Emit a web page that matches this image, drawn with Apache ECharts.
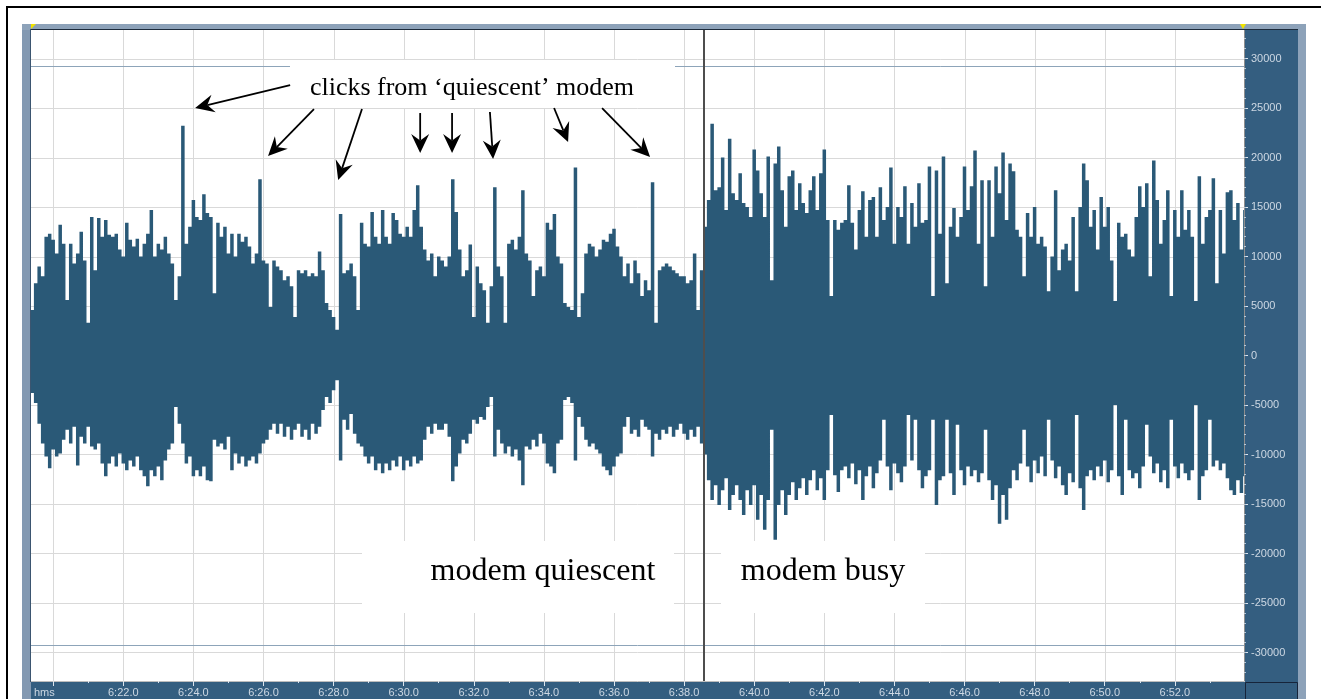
<!DOCTYPE html>
<html><head><meta charset="utf-8">
<script src="https://cdn.jsdelivr.net/npm/echarts@6/dist/echarts.min.js"></script>
<style>html,body{margin:0;padding:0;background:#fff;overflow:hidden}#c{width:1321px;height:699px}</style>
</head><body><div id="c"></div>
<script>
// ---- data (amplitude envelope, one sample every 0.1 s starting at 379.4 s) ----
const T_START = 379.4, T_STEP = 0.1;
const hi = [
4600,7300,9000,8000,12000,12300,11700,10300,13200,11300,
5600,11300,9300,10300,12500,9600,3300,14000,8600,13900,
12000,13700,12200,12000,12300,10700,10000,13400,11700,11000,
11800,10000,11300,12300,14700,10000,11300,10700,12000,10300,
9300,5600,8000,23200,11300,13000,15700,14000,13700,16300,
14400,14000,6300,13400,12000,13000,10300,12300,10000,12300,
11500,12000,11000,9300,10300,17800,9600,9300,4900,9600,
9000,8600,7600,8000,7000,3900,8600,8300,8600,8000,
8300,8000,10500,8600,5300,4600,3900,2600,14300,8300,
8600,9300,8000,4600,13400,11300,11000,14500,12000,11300,
14700,12000,11300,14400,13700,12300,12000,13000,12000,14700,
17200,13000,10700,9600,10300,8000,10000,
9600,9000,10000,17800,14500,10700,8000,8600,11200,3900,
9000,7300,6600,3300,7000,17000,9000,8000,3300,11300,
11700,10700,12000,16700,10300,9600,6000,8600,9000,8000,
13400,12700,14300,10000,9300,5300,4900,4600,19000,3900,
6300,10300,11300,11000,10000,10700,11700,11500,12300,12800,
11000,10000,8000,9300,7300,9600,8300,6000,7600,6600,
17500,3300,8600,9000,9300,9000,8600,8300,8000,8000,
7300,7600,10300,4600,8600,13000,15700,23400,16700,17000,
20000,14700,21900,16400,15700,18400,15400,15000,14000,20800,
18700,16400,14000,20100,7600,19400,21100,16700,13000,18100,
18700,14700,17400,15400,14400,16700,18100,14700,18400,20800,
13700,6000,13700,12700,13400,
13700,17200,13400,10700,14700,16600,12000,15700,16000,12000,
17000,13700,15000,19000,11300,15000,14000,17100,11300,15400,
13000,17400,13400,13700,19100,6000,18700,12300,20100,7300,
13000,14900,12000,14000,19100,14700,17100,20700,11300,17700,
7000,17700,12000,19100,16400,20500,13700,19400,18600,12700,
12000,8000,14400,12000,15000,11300,12000,11000,6500,10000,
16700,8600,10700,11300,9600,14000,6500,15000,19400,17700,
13000,14700,10700,16000,13000,15000,9600,5500,13400,12000,
12300,10700,10000,14000,17100,15000,17400,8000,19700,15700,
11300,13700,16700,6000,14700,12000,16700,12700,14700,12000,
5500,18100,11300,14000,14700,17900,7300,14700,10300,16500,
16700,13700,15400,10700,14700
];
const lo = [
-3800,-4800,-6900,-8900,-10200,-11400,-9500,-10200,-9900,-8500,
-7500,-8900,-7200,-11100,-8200,-8900,-7200,-9200,-9500,-8900,
-10900,-12200,-10900,-10200,-11200,-9900,-10900,-11600,-10600,-11200,
-10200,-11600,-12200,-13200,-11600,-12200,-11200,-12600,-10600,-9500,
-8900,-5200,-6900,-8900,-10900,-10200,-12200,-11600,-12200,-11200,
-12600,-12700,-8500,-9200,-8900,-9500,-8200,-11600,-9900,-10900,
-10200,-11200,-10600,-10200,-10900,-9900,-8900,-8500,-7500,-6900,
-7900,-6900,-8200,-7200,-8500,-7500,-6900,-8200,-7500,-8500,
-6900,-7900,-7200,-5500,-4200,-4800,-3500,-2500,-10600,-6500,
-7500,-5900,-7900,-8900,-9200,-10200,-10900,-10200,-11600,-10900,
-11900,-10900,-11600,-10600,-11200,-10200,-11600,-10600,-11200,-10200,
-10900,-10600,-8500,-7200,-7900,-6900,-7500,
-7500,-6900,-8200,-12700,-11200,-9900,-8500,-8900,-7900,-6500,
-6900,-6200,-6500,-5200,-4200,-10200,-7500,-8900,-9900,-9200,
-10200,-9500,-10600,-13100,-9200,-9500,-8500,-9200,-7900,-8900,
-10900,-11200,-11900,-8900,-8500,-4500,-4200,-4800,-10600,-6200,
-7200,-8500,-9200,-8900,-9500,-9900,-11200,-11600,-12100,-11200,
-10200,-9900,-7200,-6200,-7900,-7500,-8200,-6500,-7200,-7500,
-10200,-7900,-8500,-7500,-7900,-7200,-8200,-7500,-6900,-7900,
-8500,-7500,-8200,-7200,-8900,-10000,-12600,-14600,-13100,-15100,
-13600,-12400,-15600,-14100,-13100,-14600,-16100,-13600,-15100,-13100,
-16600,-14100,-17600,-14600,-7500,-18600,-15100,-13600,-16100,-14100,
-12800,-14600,-13400,-12400,-14100,-12600,-11600,-13600,-12400,-14600,
-11600,-6000,-12100,-13800,-11600,
-11200,-12400,-10900,-13000,-11600,-14600,-12200,-11200,-13400,-11900,
-10600,-6500,-11200,-13600,-10900,-11900,-12800,-11200,-6000,-10600,
-6500,-11600,-13400,-12200,-11600,-6500,-15100,-12600,-12200,-6500,
-11900,-14100,-7000,-11600,-13100,-11200,-12200,-11600,-12800,-11900,
-7500,-12600,-14600,-13100,-17000,-14100,-16600,-13400,-11600,-12600,
-10900,-7500,-11200,-12800,-10600,-11900,-10200,-12200,-6500,-10600,
-12400,-11200,-13100,-14100,-11900,-12800,-6000,-13400,-15600,-12200,
-11600,-12600,-11200,-12200,-10600,-12800,-11600,-5000,-12200,-14100,
-6500,-11600,-12400,-11900,-13400,-11200,-7000,-10200,-11900,-10900,
-12800,-11600,-13400,-6500,-11200,-12400,-10900,-11900,-12600,-11600,
-5000,-14600,-12200,-11600,-6500,-11200,-10600,-11600,-10900,-12400,
-13600,-14100,-12600,-13900,-12200
];
const xMajorTicks = [380,382,384,386,388,390,392,394,396,398,400,402,404,406,408,410,412];
const xLabelValues = [382,384,386,388,390,392,394,396,398,400,402,404,406,408,410,412];
const xMinorTicks = [381,383,385,387,389,391,393,395,397,399,401,403,405,407,409,411,413];
const yLabelValues = [-30000,-25000,-20000,-15000,-10000,-5000,0,5000,10000,15000,20000,25000,30000];
const clipLevels = [29205, -29205];
const cursorTime = 398.56;
// annotation arrows: [startTime, startValue, tipTime, tipValue]
const arrowPoints = [
  [386.76, 27320, 384.05, 24998],
  [387.44, 24897, 386.13, 20150],
  [388.81, 24897, 388.13, 17726],
  [390.47, 24493, 390.47, 20453],
  [391.38, 24493, 391.38, 20453],
  [392.46, 24594, 392.55, 19847],
  [394.29, 24998, 394.69, 21564],
  [395.66, 24998, 397.03, 20049]
];
const noteTop = 'clicks from ‘quiescent’ modem';
const noteLeft = 'modem quiescent';
const noteRight = 'modem busy';

// ---- chart ----
const X_MIN = 379.367, X_MAX = 413.974, Y_MIN = -32880, Y_MAX = 32880;
const WAVE = '#2a5977';
const LABEL = '#cdd8e3';
const FONT = '"Liberation Sans", Arial, sans-serif';
const SERIF = '"Liberation Serif", "Times New Roman", serif';
const times = hi.map((_, i) => +(T_START + i * T_STEP).toFixed(1));
const yMinorTicks = [];
for (let v = -32000; v <= 32000; v += 1000) yMinorTicks.push(v);

function fmtTime(t) {
  const m = Math.floor(t / 60);
  const s = Math.round(t - m * 60);
  return m + ':' + String(s).padStart(2, '0') + '.0';
}

const chart = echarts.init(document.getElementById('c'), null, {renderer: 'canvas', width: 1321, height: 699});

function crisp(v) { return Math.round(v) + 0.5; }

const option = {
  animation: false,
  backgroundColor: '#ffffff',
  grid: {left: 31, top: 30, width: 1213, height: 651, containLabel: false, outerBoundsMode: 'none'},
  xAxis: [
    {
      type: 'value', min: X_MIN, max: X_MAX, position: 'bottom', z: 10,
      axisLine: {show: true, onZero: false, lineStyle: {color: '#bdbdbd', width: 1}},
      axisTick: {show: true, customValues: xMajorTicks, length: 5, lineStyle: {color: '#dde5ee', width: 1}},
      axisLabel: {show: true, customValues: xLabelValues, formatter: fmtTime, color: LABEL, fontSize: 11, fontFamily: FONT, margin: 6},
      splitLine: {show: false}
    },
    {
      type: 'value', min: X_MIN, max: X_MAX, position: 'bottom', z: 10,
      axisLine: {show: false, onZero: false},
      axisTick: {show: true, customValues: xMinorTicks, length: 2, lineStyle: {color: '#dde5ee', width: 1}},
      axisLabel: {show: false},
      splitLine: {show: false}
    }
  ],
  yAxis: [
    {
      type: 'value', min: Y_MIN, max: Y_MAX, position: 'right', z: 10,
      axisLine: {show: true, onZero: false, lineStyle: {color: '#8e8e8e', width: 1}},
      axisTick: {show: true, customValues: yLabelValues, length: 4, lineStyle: {color: '#dde5ee', width: 1}},
      axisLabel: {show: true, customValues: yLabelValues, formatter: v => String(v), color: LABEL, fontSize: 11, fontFamily: FONT, margin: 7},
      splitLine: {show: false}
    },
    {
      type: 'value', min: Y_MIN, max: Y_MAX, position: 'right', z: 10,
      axisLine: {show: false, onZero: false},
      axisTick: {show: true, customValues: yMinorTicks, length: 2, lineStyle: {color: '#b9c7d6', width: 1}},
      axisLabel: {show: false},
      splitLine: {show: false}
    }
  ],
  series: [
    { // vertical grid lines
      type: 'custom', xAxisIndex: 0, yAxisIndex: 0, z: 1, silent: true,
      data: xMajorTicks.map(v => [v, 0]),
      renderItem: (p, api) => {
        const x = crisp(api.coord([api.value(0), 0])[0]);
        const y1 = api.coord([X_MIN, Y_MAX])[1], y2 = api.coord([X_MIN, Y_MIN])[1];
        return {type: 'line', shape: {x1: x, y1: y1, x2: x, y2: y2}, style: {stroke: '#d9d9d9', lineWidth: 1}};
      }
    },
    { // horizontal grid lines
      type: 'custom', xAxisIndex: 0, yAxisIndex: 0, z: 1, silent: true,
      data: yLabelValues.map(v => [X_MIN, v]),
      renderItem: (p, api) => {
        const y = crisp(api.coord([X_MIN, api.value(1)])[1]);
        const x1 = api.coord([X_MIN, 0])[0], x2 = api.coord([X_MAX, 0])[0];
        return {type: 'line', shape: {x1: x1, y1: y, x2: x2, y2: y}, style: {stroke: '#d9d9d9', lineWidth: 1}};
      }
    },
    { // clip level lines
      type: 'custom', xAxisIndex: 0, yAxisIndex: 0, z: 1, silent: true,
      data: clipLevels.map(v => [X_MIN, v]),
      renderItem: (p, api) => {
        const y = crisp(api.coord([X_MIN, api.value(1)])[1]);
        const x1 = api.coord([X_MIN, 0])[0], x2 = api.coord([X_MAX, 0])[0];
        return {type: 'line', shape: {x1: x1, y1: y, x2: x2, y2: y}, style: {stroke: '#8da4b9', lineWidth: 1}};
      }
    },
    { // waveform envelope (max above, min below), drawn as one stepped shape
      type: 'custom', xAxisIndex: 0, yAxisIndex: 0, z: 2, silent: true, clip: true,
      data: [[times[0], 0]],
      renderItem: (p, api) => {
        const half = T_STEP / 2;
        const pts = [];
        for (let i = 0; i < times.length; i++) {
          pts.push(api.coord([times[i] - half, hi[i]]));
          pts.push(api.coord([times[i] + half, hi[i]]));
        }
        for (let i = times.length - 1; i >= 0; i--) {
          pts.push(api.coord([times[i] + half, lo[i]]));
          pts.push(api.coord([times[i] - half, lo[i]]));
        }
        return {type: 'polygon', shape: {points: pts}, style: {fill: WAVE}};
      }
    },
    { // cursor
      type: 'custom', xAxisIndex: 0, yAxisIndex: 0, z: 4, silent: true,
      data: [[cursorTime, 0]],
      renderItem: (p, api) => {
        const x = Math.round(api.coord([api.value(0), 0])[0]);
        const y1 = api.coord([X_MIN, Y_MAX])[1], y2 = api.coord([X_MIN, Y_MIN])[1];
        return {type: 'line', shape: {x1: x, y1: y1, x2: x, y2: y2}, style: {stroke: '#4e4e4e', lineWidth: 2}};
      }
    },
    { // annotation arrows
      type: 'custom', xAxisIndex: 0, yAxisIndex: 0, z: 6, silent: true,
      data: arrowPoints,
      renderItem: (p, api) => {
        const s = api.coord([api.value(0), api.value(1)]);
        const e = api.coord([api.value(2), api.value(3)]);
        const dx = e[0] - s[0], dy = e[1] - s[1];
        const len = Math.hypot(dx, dy) || 1;
        const ux = dx / len, uy = dy / len, nx = -uy, ny = ux;
        const L = 19, W = 9;
        const bx = e[0] - ux * L, by = e[1] - uy * L;
        const qx = e[0] - ux * L * 0.66, qy = e[1] - uy * L * 0.66;
        return {type: 'group', children: [
          {type: 'line', shape: {x1: s[0], y1: s[1], x2: qx, y2: qy}, style: {stroke: '#000', lineWidth: 1.8}},
          {type: 'polygon', shape: {points: [[e[0], e[1]], [bx + nx * W, by + ny * W], [qx, qy], [bx - nx * W, by - ny * W]]}, style: {fill: '#000'}}
        ]};
      }
    }
  ],
  graphic: [
    // window frame pieces
    {type: 'rect', z: -1, shape: {x: 6, y: 6, width: 1315, height: 2}, style: {fill: '#000'}, silent: true},
    {type: 'rect', z: -1, shape: {x: 6, y: 6, width: 2, height: 693}, style: {fill: '#000'}, silent: true},
    {type: 'rect', z: -1, shape: {x: 22, y: 24, width: 9, height: 675}, style: {fill: '#8399b2'}, silent: true},
    {type: 'rect', z: -1, shape: {x: 22, y: 24, width: 1284, height: 6}, style: {fill: '#8da2b9'}, silent: true},
    {type: 'rect', z: -1, shape: {x: 1245, y: 30, width: 53, height: 669}, style: {fill: '#345e80'}, silent: true},
    {type: 'rect', z: -1, shape: {x: 1298, y: 24, width: 8, height: 675}, style: {fill: '#8da2b9'}, silent: true},
    {type: 'rect', z: -1, shape: {x: 31, y: 682, width: 1214, height: 17}, style: {fill: '#345e80'}, silent: true},
    {type: 'rect', z: 11, shape: {x: 1245.5, y: 682.5, width: 52, height: 18}, style: {fill: '#345e80', stroke: '#16243a', lineWidth: 1}, silent: true},
    {type: 'rect', z: 11, shape: {x: 31, y: 29, width: 1267, height: 1}, style: {fill: '#1c2b3b'}, silent: true},
    {type: 'rect', z: 11, shape: {x: 30, y: 29, width: 1, height: 653}, style: {fill: '#3b5570'}, silent: true},
    {type: 'polygon', z: 11, shape: {points: [[31, 24], [36, 24], [31, 29]]}, style: {fill: '#f0e400'}, silent: true},
    {type: 'polygon', z: 11, shape: {points: [[1240, 24], [1246, 24], [1243, 29]]}, style: {fill: '#f0e400'}, silent: true},
    {type: 'text', z: 11, x: 34, y: 693, style: {text: 'hms', fill: LABEL, fontSize: 11, fontFamily: FONT, align: 'left', verticalAlign: 'middle'}, silent: true},
    // annotation boxes
    {type: 'rect', z: 3, shape: {x: 290, y: 60, width: 385, height: 48}, style: {fill: '#ffffff'}, silent: true},
    {type: 'text', z: 7, x: 472, y: 88, style: {text: noteTop, fill: '#000', fontSize: 26, fontFamily: SERIF, align: 'center', verticalAlign: 'middle'}, silent: true},
    {type: 'rect', z: 3, shape: {x: 362, y: 541, width: 312, height: 72}, style: {fill: '#ffffff'}, silent: true},
    {type: 'text', z: 7, x: 543, y: 572, style: {text: noteLeft, fill: '#000', fontSize: 32, fontFamily: SERIF, align: 'center', verticalAlign: 'middle'}, silent: true},
    {type: 'rect', z: 3, shape: {x: 721, y: 541, width: 204, height: 72}, style: {fill: '#ffffff'}, silent: true},
    {type: 'text', z: 7, x: 823, y: 572, style: {text: noteRight, fill: '#000', fontSize: 32, fontFamily: SERIF, align: 'center', verticalAlign: 'middle'}, silent: true}
  ]
};
chart.setOption(option);
</script>
</body></html>
